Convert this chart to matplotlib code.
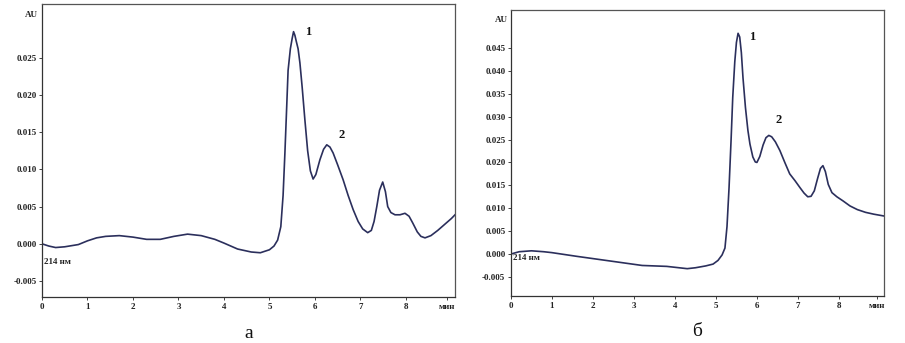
import numpy as np
import matplotlib.pyplot as plt

# хроматограмма а (время, мин; оптическая плотность, AU)
t_a = [0.0, 0.15, 0.3, 0.5, 0.8, 1.0, 1.2, 1.4, 1.7, 2.0, 2.3, 2.6, 2.9, 3.2, 3.5,
       3.8, 4.0, 4.3, 4.6, 4.8, 5.0, 5.1, 5.18, 5.25, 5.3, 5.34, 5.38, 5.41, 5.46,
       5.5, 5.53, 5.56, 5.59, 5.63, 5.67, 5.72, 5.78, 5.84, 5.9, 5.96, 6.02, 6.11,
       6.19, 6.26, 6.33, 6.4, 6.5, 6.62, 6.73, 6.84, 6.95, 7.05, 7.16, 7.24, 7.3,
       7.36, 7.42, 7.49, 7.55, 7.6, 7.67, 7.76, 7.87, 7.98, 8.07, 8.15, 8.25, 8.33,
       8.42, 8.55, 8.7, 8.85, 9.0, 9.08]
au_a = [0.0000, -0.0003, -0.0005, -0.0004, -0.0001, 0.0004, 0.0008, 0.0010, 0.0011,
        0.0009, 0.0006, 0.0006, 0.0010, 0.0013, 0.0011, 0.0006, 0.0001, -0.0007,
        -0.0011, -0.0012, -0.0008, -0.0003, 0.0005, 0.0023, 0.0065, 0.0122, 0.0185,
        0.0233, 0.0262, 0.0276, 0.0285, 0.0280, 0.0272, 0.0262, 0.0243, 0.0210,
        0.0166, 0.0125, 0.0098, 0.0087, 0.0093, 0.0113, 0.0127, 0.0133, 0.0130,
        0.0122, 0.0106, 0.0086, 0.0065, 0.0046, 0.0030, 0.0020, 0.0015, 0.0018,
        0.0030, 0.0050, 0.0072, 0.0083, 0.0070, 0.0050, 0.0042, 0.0039, 0.0039,
        0.0041, 0.0037, 0.0028, 0.0016, 0.0010, 0.0008, 0.0011, 0.0018, 0.0026,
        0.0034, 0.0039]

# хроматограмма б
t_b = [0.0, 0.2, 0.5, 0.8, 1.0, 1.3, 1.6, 2.0, 2.4, 2.8, 3.2, 3.5, 3.8, 4.1, 4.3,
       4.5, 4.75, 4.93, 5.05, 5.15, 5.22, 5.27, 5.32, 5.37, 5.41, 5.46, 5.5, 5.54,
       5.58, 5.62, 5.66, 5.72, 5.78, 5.83, 5.9, 5.96, 6.0, 6.07, 6.15, 6.22, 6.29,
       6.36, 6.45, 6.56, 6.68, 6.8, 6.93, 7.05, 7.15, 7.24, 7.32, 7.4, 7.48, 7.55,
       7.61, 7.67, 7.74, 7.83, 7.95, 8.1, 8.27, 8.45, 8.65, 8.85, 9.1]
au_b = [0.0000, 0.0005, 0.0007, 0.0005, 0.0003, -0.0001, -0.0005, -0.0010, -0.0015,
        -0.0020, -0.0025, -0.0026, -0.0027, -0.0030, -0.0032, -0.0030, -0.0026,
        -0.0022, -0.0014, -0.0002, 0.0013, 0.0060, 0.0145, 0.0250, 0.0342, 0.0420,
        0.0462, 0.0482, 0.0474, 0.0440, 0.0385, 0.0320, 0.0270, 0.0240, 0.0212,
        0.0201, 0.0200, 0.0213, 0.0238, 0.0254, 0.0259, 0.0256, 0.0245, 0.0226,
        0.0200, 0.0175, 0.0160, 0.0145, 0.0133, 0.0125, 0.0126, 0.0138, 0.0165,
        0.0187, 0.0193, 0.0180, 0.0152, 0.0134, 0.0125, 0.0116, 0.0105, 0.0097,
        0.0091, 0.0087, 0.0083]

yt_a = [-0.005, 0.000, 0.005, 0.010, 0.015, 0.020, 0.025]
yt_b = [-0.005, 0.000, 0.005, 0.010, 0.015, 0.020, 0.025, 0.030, 0.035, 0.040, 0.045]
xt = [0, 1, 2, 3, 4, 5, 6, 7, 8]

serif = 'Liberation Serif'
lc = '#2b2f5c'

fig = plt.figure(figsize=(9.05, 3.43), dpi=100)
ax1 = fig.add_axes([0.0464, 0.134, 0.4564, 0.854])
ax2 = fig.add_axes([0.5646, 0.137, 0.4122, 0.834])

panels = [
    (ax1, t_a, au_a, yt_a, (-0.00715, 0.0322), 9.08, 0.0308,
     [(5.85, 0.0285, '1'), (6.59, 0.0146, '2')], 'а'),
    (ax2, t_b, au_b, yt_b, (-0.00917, 0.0533), 9.1, 0.0511,
     [(5.88, 0.0474, '1'), (6.54, 0.0292, '2')], 'б'),
]

for ax, t, v, yt, ylim, xmax, au_y, peaks, letter in panels:
    ax.plot(t, v, color=lc, lw=1.2)
    ax.set_xlim(0, xmax)
    ax.set_ylim(*ylim)
    ax.set_yticks(yt)
    ax.set_yticklabels(['%.3f' % y for y in yt])
    ax.set_xticks(xt + [xmax - 0.17])
    ax.set_xticklabels([str(x) for x in xt] + ['мин'])
    ax.tick_params(length=2, width=0.6, pad=2, labelsize=6.5, colors='#222222')
    for lab in ax.get_xticklabels() + ax.get_yticklabels():
        lab.set_fontfamily(serif)
        lab.set_fontweight('bold')
    for s in ax.spines.values():
        s.set_color('#555555')
        s.set_linewidth(0.9)
    ax.spines['left'].set_color('#333333')
    ax.spines['bottom'].set_color('#333333')
    ax.text(-0.08, au_y, 'AU', ha='right', va='center', fontsize=6.5,
            fontfamily=serif, fontweight='bold', color='#222222')
    ax.text(0.05, -0.0025 if ax is ax1 else -0.0008, '214 нм', ha='left', va='center',
            fontsize=6.5, fontfamily=serif, fontweight='bold', color='#222222')
    for px, py, s in peaks:
        ax.text(px, py, s, fontsize=9, fontfamily=serif, fontweight='bold',
                ha='center', va='center', color='#111111')
    ax.text(0.5, -0.125, letter, transform=ax.transAxes, ha='center', va='center',
            fontsize=14, fontfamily=serif, color='#111111')

fig.savefig('out.png', dpi=100)
